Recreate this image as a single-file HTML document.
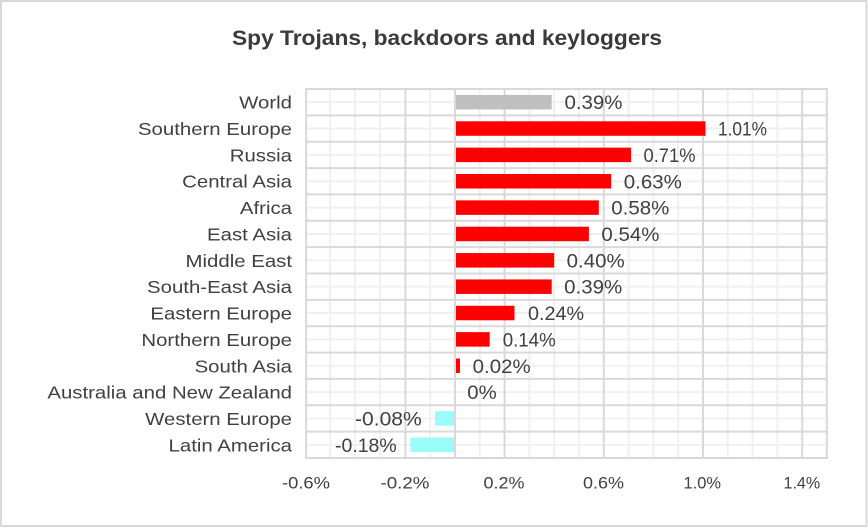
<!DOCTYPE html>
<html>
<head>
<meta charset="utf-8">
<style>
  html, body { margin:0; padding:0; background:#fff; }
  svg { display:block; }
  text { font-family: "Liberation Sans", "DejaVu Sans", sans-serif; fill:#404040; }
</style>
</head>
<body>
<svg width="868" height="528" viewBox="0 0 868 528" xmlns="http://www.w3.org/2000/svg">
  <rect x="0" y="0" width="868" height="528" fill="#fff"/>
  <rect x="1" y="1" width="865.5" height="525" fill="none" stroke="#d9d9d9" stroke-width="2"/>

  <!-- title -->
  <text x="232" y="45" font-size="21" font-weight="bold" textLength="430" lengthAdjust="spacingAndGlyphs" style="fill:#3a3a3a">Spy Trojans, backdoors and keyloggers</text>

  <!-- minor horizontal grid (row midpoints) -->
  <g stroke="#f0f0f0" stroke-width="2">
    <line x1="306" x2="827" y1="102.18" y2="102.18"/>
    <line x1="306" x2="827" y1="128.54" y2="128.54"/>
    <line x1="306" x2="827" y1="154.89" y2="154.89"/>
    <line x1="306" x2="827" y1="181.25" y2="181.25"/>
    <line x1="306" x2="827" y1="207.61" y2="207.61"/>
    <line x1="306" x2="827" y1="233.96" y2="233.96"/>
    <line x1="306" x2="827" y1="260.32" y2="260.32"/>
    <line x1="306" x2="827" y1="286.68" y2="286.68"/>
    <line x1="306" x2="827" y1="313.04" y2="313.04"/>
    <line x1="306" x2="827" y1="339.39" y2="339.39"/>
    <line x1="306" x2="827" y1="365.75" y2="365.75"/>
    <line x1="306" x2="827" y1="392.11" y2="392.11"/>
    <line x1="306" x2="827" y1="418.46" y2="418.46"/>
    <line x1="306" x2="827" y1="444.82" y2="444.82"/>
  </g>
  <!-- minor vertical grid (every 0.1%) -->
  <g stroke="#f0f0f0" stroke-width="2">
    <line y1="89" y2="458" x1="330.2" x2="330.2"/>
    <line y1="89" y2="458" x1="355.0" x2="355.0"/>
    <line y1="89" y2="458" x1="379.8" x2="379.8"/>
    <line y1="89" y2="458" x1="430.2" x2="430.2"/>
    <line y1="89" y2="458" x1="479.8" x2="479.8"/>
    <line y1="89" y2="458" x1="529.4" x2="529.4"/>
    <line y1="89" y2="458" x1="554.2" x2="554.2"/>
    <line y1="89" y2="458" x1="579.0" x2="579.0"/>
    <line y1="89" y2="458" x1="628.6" x2="628.6"/>
    <line y1="89" y2="458" x1="653.4" x2="653.4"/>
    <line y1="89" y2="458" x1="678.2" x2="678.2"/>
    <line y1="89" y2="458" x1="727.8" x2="727.8"/>
    <line y1="89" y2="458" x1="752.6" x2="752.6"/>
    <line y1="89" y2="458" x1="777.4" x2="777.4"/>
  </g>
  <!-- major horizontal grid -->
  <g stroke="#d9d9d9" stroke-width="2">
    <line x1="305" x2="828" y1="89" y2="89"/>
    <line x1="305" x2="828" y1="115.36" y2="115.36"/>
    <line x1="305" x2="828" y1="141.71" y2="141.71"/>
    <line x1="305" x2="828" y1="168.07" y2="168.07"/>
    <line x1="305" x2="828" y1="194.43" y2="194.43"/>
    <line x1="305" x2="828" y1="220.79" y2="220.79"/>
    <line x1="305" x2="828" y1="247.14" y2="247.14"/>
    <line x1="305" x2="828" y1="273.5" y2="273.5"/>
    <line x1="305" x2="828" y1="299.86" y2="299.86"/>
    <line x1="305" x2="828" y1="326.21" y2="326.21"/>
    <line x1="305" x2="828" y1="352.57" y2="352.57"/>
    <line x1="305" x2="828" y1="378.93" y2="378.93"/>
    <line x1="305" x2="828" y1="405.29" y2="405.29"/>
    <line x1="305" x2="828" y1="431.64" y2="431.64"/>
    <line x1="305" x2="828" y1="458" y2="458"/>
  </g>
  <!-- major vertical grid -->
  <g stroke="#d9d9d9" stroke-width="2">
    <line y1="88" y2="459" x1="306.2" x2="306.2"/>
    <line y1="88" y2="459" x1="405.4" x2="405.4"/>
    <line y1="88" y2="459" x1="504.6" x2="504.6"/>
    <line y1="88" y2="459" x1="603.8" x2="603.8"/>
    <line y1="88" y2="459" x1="703.0" x2="703.0"/>
    <line y1="88" y2="459" x1="802.2" x2="802.2"/>
    <line y1="88" y2="459" x1="826.8" x2="826.8"/>
  </g>

  <!-- bars -->
  <rect x="456" y="94.93" width="95.7" height="14.5" fill="#bfbfbf"/>
  <rect x="456" y="121.29" width="249.5" height="14.5" fill="#ff0000"/>
  <rect x="456" y="147.64" width="175.1" height="14.5" fill="#ff0000"/>
  <rect x="456" y="174.0" width="155.2" height="14.5" fill="#ff0000"/>
  <rect x="456" y="200.36" width="142.8" height="14.5" fill="#ff0000"/>
  <rect x="456" y="226.71" width="132.9" height="14.5" fill="#ff0000"/>
  <rect x="456" y="253.07" width="98.2" height="14.5" fill="#ff0000"/>
  <rect x="456" y="279.43" width="95.7" height="14.5" fill="#ff0000"/>
  <rect x="456" y="305.79" width="58.5" height="14.5" fill="#ff0000"/>
  <rect x="456" y="332.14" width="33.7" height="14.5" fill="#ff0000"/>
  <rect x="456" y="358.5" width="4.0" height="14.5" fill="#ff0000"/>
  <rect x="435.2" y="411.21" width="18.8" height="14.5" fill="#99fcf8"/>
  <rect x="410.4" y="437.57" width="43.6" height="14.5" fill="#99fcf8"/>

  <!-- zero axis -->
  <line y1="88" y2="459" x1="455" x2="455" stroke="#d9d9d9" stroke-width="2"/>

  <!-- category labels -->
  <g transform="translate(292,0) scale(1.165,1)" font-size="17.5" text-anchor="end">
    <text x="0" y="108.5">World</text>
    <text x="0" y="135">Southern Europe</text>
    <text x="0" y="161.4">Russia</text>
    <text x="0" y="187.7">Central Asia</text>
    <text x="0" y="214.1">Africa</text>
    <text x="0" y="240.5">East Asia</text>
    <text x="0" y="266.8">Middle East</text>
    <text x="0" y="293.2">South-East Asia</text>
    <text x="0" y="319.5">Eastern Europe</text>
    <text x="0" y="345.9">Northern Europe</text>
    <text x="0" y="372.3">South Asia</text>
    <text x="0" y="398.6">Australia and New Zealand</text>
    <text x="0" y="425">Western Europe</text>
    <text x="0" y="451.3">Latin America</text>
  </g>

  <!-- value labels -->
  <g font-size="19">
    <text x="564.5" y="109.2" textLength="58" lengthAdjust="spacingAndGlyphs">0.39%</text>
    <text x="718" y="135.6" textLength="49" lengthAdjust="spacingAndGlyphs">1.01%</text>
    <text x="643.5" y="161.9" textLength="52" lengthAdjust="spacingAndGlyphs">0.71%</text>
    <text x="623.8" y="188.3" textLength="58" lengthAdjust="spacingAndGlyphs">0.63%</text>
    <text x="611.3" y="214.6" textLength="58" lengthAdjust="spacingAndGlyphs">0.58%</text>
    <text x="601.4" y="241" textLength="58" lengthAdjust="spacingAndGlyphs">0.54%</text>
    <text x="566.7" y="267.3" textLength="58" lengthAdjust="spacingAndGlyphs">0.40%</text>
    <text x="564.2" y="293.7" textLength="58" lengthAdjust="spacingAndGlyphs">0.39%</text>
    <text x="528" y="320" textLength="56" lengthAdjust="spacingAndGlyphs">0.24%</text>
    <text x="502.7" y="346.4" textLength="53" lengthAdjust="spacingAndGlyphs">0.14%</text>
    <text x="472.7" y="372.8" textLength="58" lengthAdjust="spacingAndGlyphs">0.02%</text>
    <text x="467.3" y="399.1" textLength="29.4" lengthAdjust="spacingAndGlyphs">0%</text>
    <text x="355" y="425.5" textLength="66.7" lengthAdjust="spacingAndGlyphs">-0.08%</text>
    <text x="335" y="451.8" textLength="61.7" lengthAdjust="spacingAndGlyphs">-0.18%</text>
  </g>

  <!-- x axis labels -->
  <g font-size="17">
    <text x="282" y="488.5" textLength="48" lengthAdjust="spacingAndGlyphs">-0.6%</text>
    <text x="380.5" y="488.5" textLength="49" lengthAdjust="spacingAndGlyphs">-0.2%</text>
    <text x="483.5" y="488.5" textLength="41" lengthAdjust="spacingAndGlyphs">0.2%</text>
    <text x="583" y="488.5" textLength="41" lengthAdjust="spacingAndGlyphs">0.6%</text>
    <text x="683.5" y="488.5" textLength="37.5" lengthAdjust="spacingAndGlyphs">1.0%</text>
    <text x="783.5" y="488.5" textLength="36.7" lengthAdjust="spacingAndGlyphs">1.4%</text>
  </g>
</svg>
</body>
</html>
